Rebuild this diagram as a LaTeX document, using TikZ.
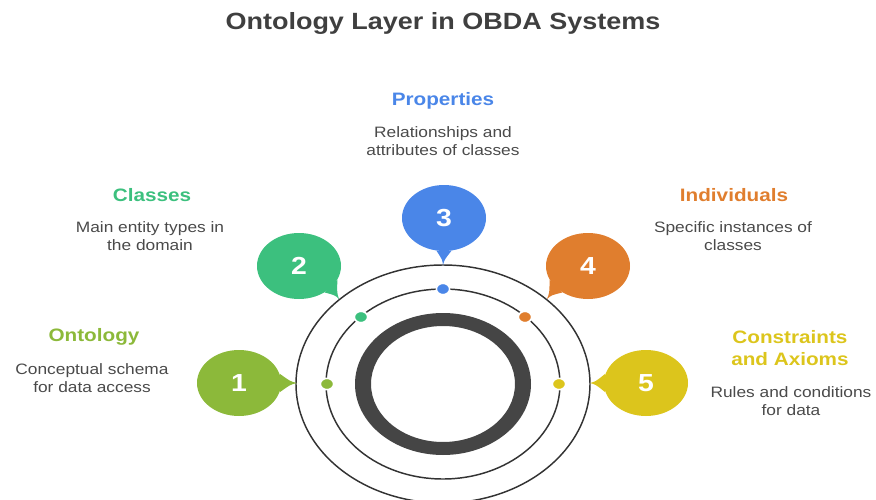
\documentclass[tikz,border=0pt]{standalone}
\usepackage{fontspec}
\setmainfont[FakeStretch=1.15]{Liberation Sans}
\usetikzlibrary{shapes.geometric,calc}

\definecolor{cOnt}{HTML}{8CB93A}
\definecolor{cCls}{HTML}{3CC07E}
\definecolor{cProp}{HTML}{4A86E8}
\definecolor{cInd}{HTML}{E07E2E}
\definecolor{cCon}{HTML}{DCC51C}
\definecolor{ringgray}{HTML}{333333}
\definecolor{darkring}{HTML}{454545}
\definecolor{titlegray}{HTML}{3F3F3F}
\definecolor{bodygray}{HTML}{4A4A4A}

\tikzset{
  bubble/.style={ellipse, minimum width=63pt, minimum height=49.5pt, inner sep=0pt,
    text=white, font=\fontsize{18.5}{20}\selectfont\bfseries},
  ringdot/.style={ellipse, minimum width=10pt, minimum height=8.5pt, inner sep=0pt,
    draw=white, line width=1.2pt},
  header/.style={align=center, font=\fontsize{13.5}{17}\selectfont\bfseries},
  body/.style={align=center, text=bodygray, font=\fontsize{11.3}{13.5}\selectfont},
  ring/.style={draw=ringgray, line width=1.1pt},
}

% tail of a speech bubble: #1 colour, #2 bubble, #3 direction on the page, #4 tip
\newcommand\bubbletail[4]{%
  \fill[#1] (#2.{#3+13}) .. controls ($(#2.{#3+5})!0.6!(#4)$) .. (#4)
            .. controls ($(#2.{#3-5})!0.6!(#4)$) .. (#2.{#3-13}) -- cycle;}

\begin{document}
\begin{tikzpicture}[x=0.75pt, y=-0.75pt]
  \useasboundingbox (0,0) rectangle (876,500);
  \clip (0,0) rectangle (876,500);

  % title
  \node[font=\fontsize{17.6}{20}\selectfont\bfseries, text=titlegray] (title) at (443,23)
    {Ontology Layer in OBDA Systems};

  % concentric rings
  \draw[ring] (443,384) ellipse [x radius=147, y radius=119];
  \draw[ring] (443,384) ellipse [x radius=117, y radius=95];
  \fill[darkring, even odd rule] (443,384) ellipse [x radius=88, y radius=71]
                                 (443,384) ellipse [x radius=72, y radius=58];

  % dots on the middle ring
  \node[ringdot, fill=cOnt]  (d1) at (327,384) {};
  \node[ringdot, fill=cCls]  (d2) at (361,317) {};
  \node[ringdot, fill=cProp] (d3) at (443,289) {};
  \node[ringdot, fill=cInd]  (d4) at (525,317) {};
  \node[ringdot, fill=cCon]  (d5) at (559,384) {};

  % tail tips on the outer ring
  \coordinate (t1) at (297,383);
  \coordinate (t2) at (339,299);
  \coordinate (t3) at (443,265);
  \coordinate (t4) at (547,299);
  \coordinate (t5) at (590,383);

  % speech bubbles
  \node[bubble, fill=cOnt]  (b1) at (239,383) {1};
  \node[bubble, fill=cCls]  (b2) at (299,266) {2};
  \node[bubble, fill=cProp] (b3) at (444,218) {3};
  \node[bubble, fill=cInd]  (b4) at (588,266) {4};
  \node[bubble, fill=cCon]  (b5) at (646,383) {5};

  \bubbletail{cOnt}{b1}{0}{t1}
  \bubbletail{cCls}{b2}{-33}{t2}
  \bubbletail{cProp}{b3}{-90}{t3}
  \bubbletail{cInd}{b4}{-147}{t4}
  \bubbletail{cCon}{b5}{180}{t5}

  % labels
  \node[header, text=cOnt] (h1) at (94,337) {Ontology};
  \node[body] (x1) at (92,378) {Conceptual schema\\for data access};

  \node[header, text=cCls] (h2) at (152,195) {Classes};
  \node[body] (x2) at (150,236) {Main entity types in\\the domain};

  \node[header, text=cProp] (h3) at (443,101) {Properties};
  \node[body] (x3) at (443,141) {Relationships and\\attributes of classes};

  \node[header, text=cInd] (h4) at (734,195) {Individuals};
  \node[body] (x4) at (733,236) {Specific instances of\\classes};

  \node[header, text=cCon] (h5) at (790,348) {Constraints\\and Axioms};
  \node[body] (x5) at (791,401) {Rules and conditions\\for data};
\end{tikzpicture}
\end{document}
